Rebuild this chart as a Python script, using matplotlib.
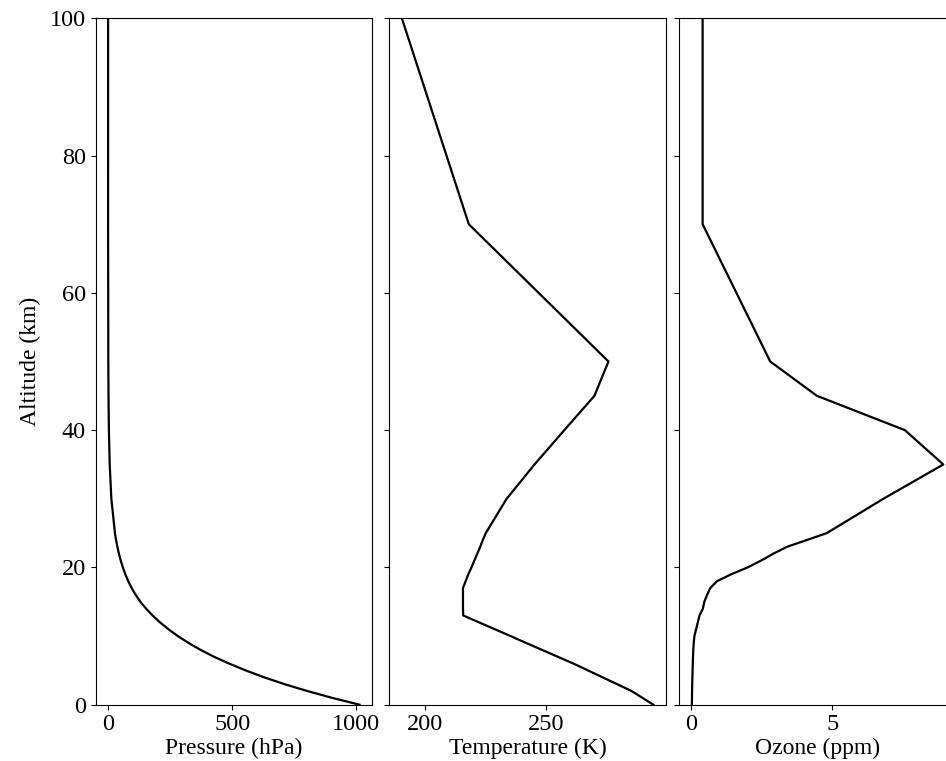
import matplotlib
matplotlib.use("Agg")
import matplotlib.pyplot as plt

plt.rcParams['font.family'] = ['Liberation Serif', 'DejaVu Serif']
plt.rcParams['font.size'] = 17

altitude_km = [0, 1, 2, 3, 4, 5, 6, 7, 8, 9, 10, 11, 12, 13, 14, 15, 16, 17, 18, 19,
               20, 21, 22, 23, 24, 25, 30, 35, 40, 45, 50, 70, 100]
pressure_hpa = [1013, 902, 802, 710, 628, 554, 487, 426, 372, 324, 281, 243, 209, 179,
                153, 130, 111, 95, 81.2, 69.5, 59.5, 51.0, 43.7, 37.6, 32.2, 27.7,
                13.2, 6.52, 3.33, 1.76, 0.951, 0.067, 0.0003]
temperature_k = [294.2, 289.7, 285.2, 279.2, 273.2, 267.2, 261.2, 254.7, 248.2, 241.7,
                 235.3, 228.8, 222.3, 215.8, 215.7, 215.7, 215.7, 215.7, 216.8, 217.9,
                 219.2, 220.4, 221.6, 222.8, 223.9, 225.1, 233.7, 245.2, 257.5, 269.9,
                 275.7, 218.1, 190.5]
ozone_ppm = [0.03, 0.033, 0.037, 0.042, 0.048, 0.055, 0.062, 0.070, 0.080, 0.095,
             0.12, 0.18, 0.24, 0.30, 0.42, 0.47, 0.57, 0.68, 0.92, 1.42,
             2.0, 2.48, 2.91, 3.39, 4.1, 4.8, 6.8, 8.92, 7.56, 4.45,
             2.8, 0.41, 0.41]

W, H = 946, 761
fig = plt.figure(figsize=(W / 100, H / 100), dpi=100)

bottom = (H - 704.7) / H
height = (704.7 - 18.3) / H
width = 276.6 / W
ax1 = fig.add_axes([95.5 / W, bottom, width, height])
ax2 = fig.add_axes([389.3 / W, bottom, width, height], sharey=ax1)
ax3 = fig.add_axes([679.3 / W, bottom, width, height], sharey=ax1)

lw = 1.6
ax1.plot(pressure_hpa, altitude_km, color='black', lw=lw)
ax2.plot(temperature_k, altitude_km, color='black', lw=lw)
ax3.plot(ozone_ppm, altitude_km, color='black', lw=lw)

ax1.set_ylim(0, 100)
ax1.set_yticks([0, 20, 40, 60, 80, 100])
ax1.set_ylabel('Altitude (km)', labelpad=6)

ax1.set_xticks([0, 500, 1000])
ax2.set_xticks([200, 250])
ax3.set_xticks([0, 5])

ax1.set_xlabel('Pressure (hPa)', labelpad=2)
ax2.set_xlabel('Temperature (K)', labelpad=2)
ax3.set_xlabel('Ozone (ppm)', labelpad=2)

for ax in (ax2, ax3):
    ax.tick_params(axis='y', labelleft=False)

for ax in (ax1, ax2, ax3):
    ax.tick_params(labelsize=17.5)

fig.savefig('out.png', dpi=100)
